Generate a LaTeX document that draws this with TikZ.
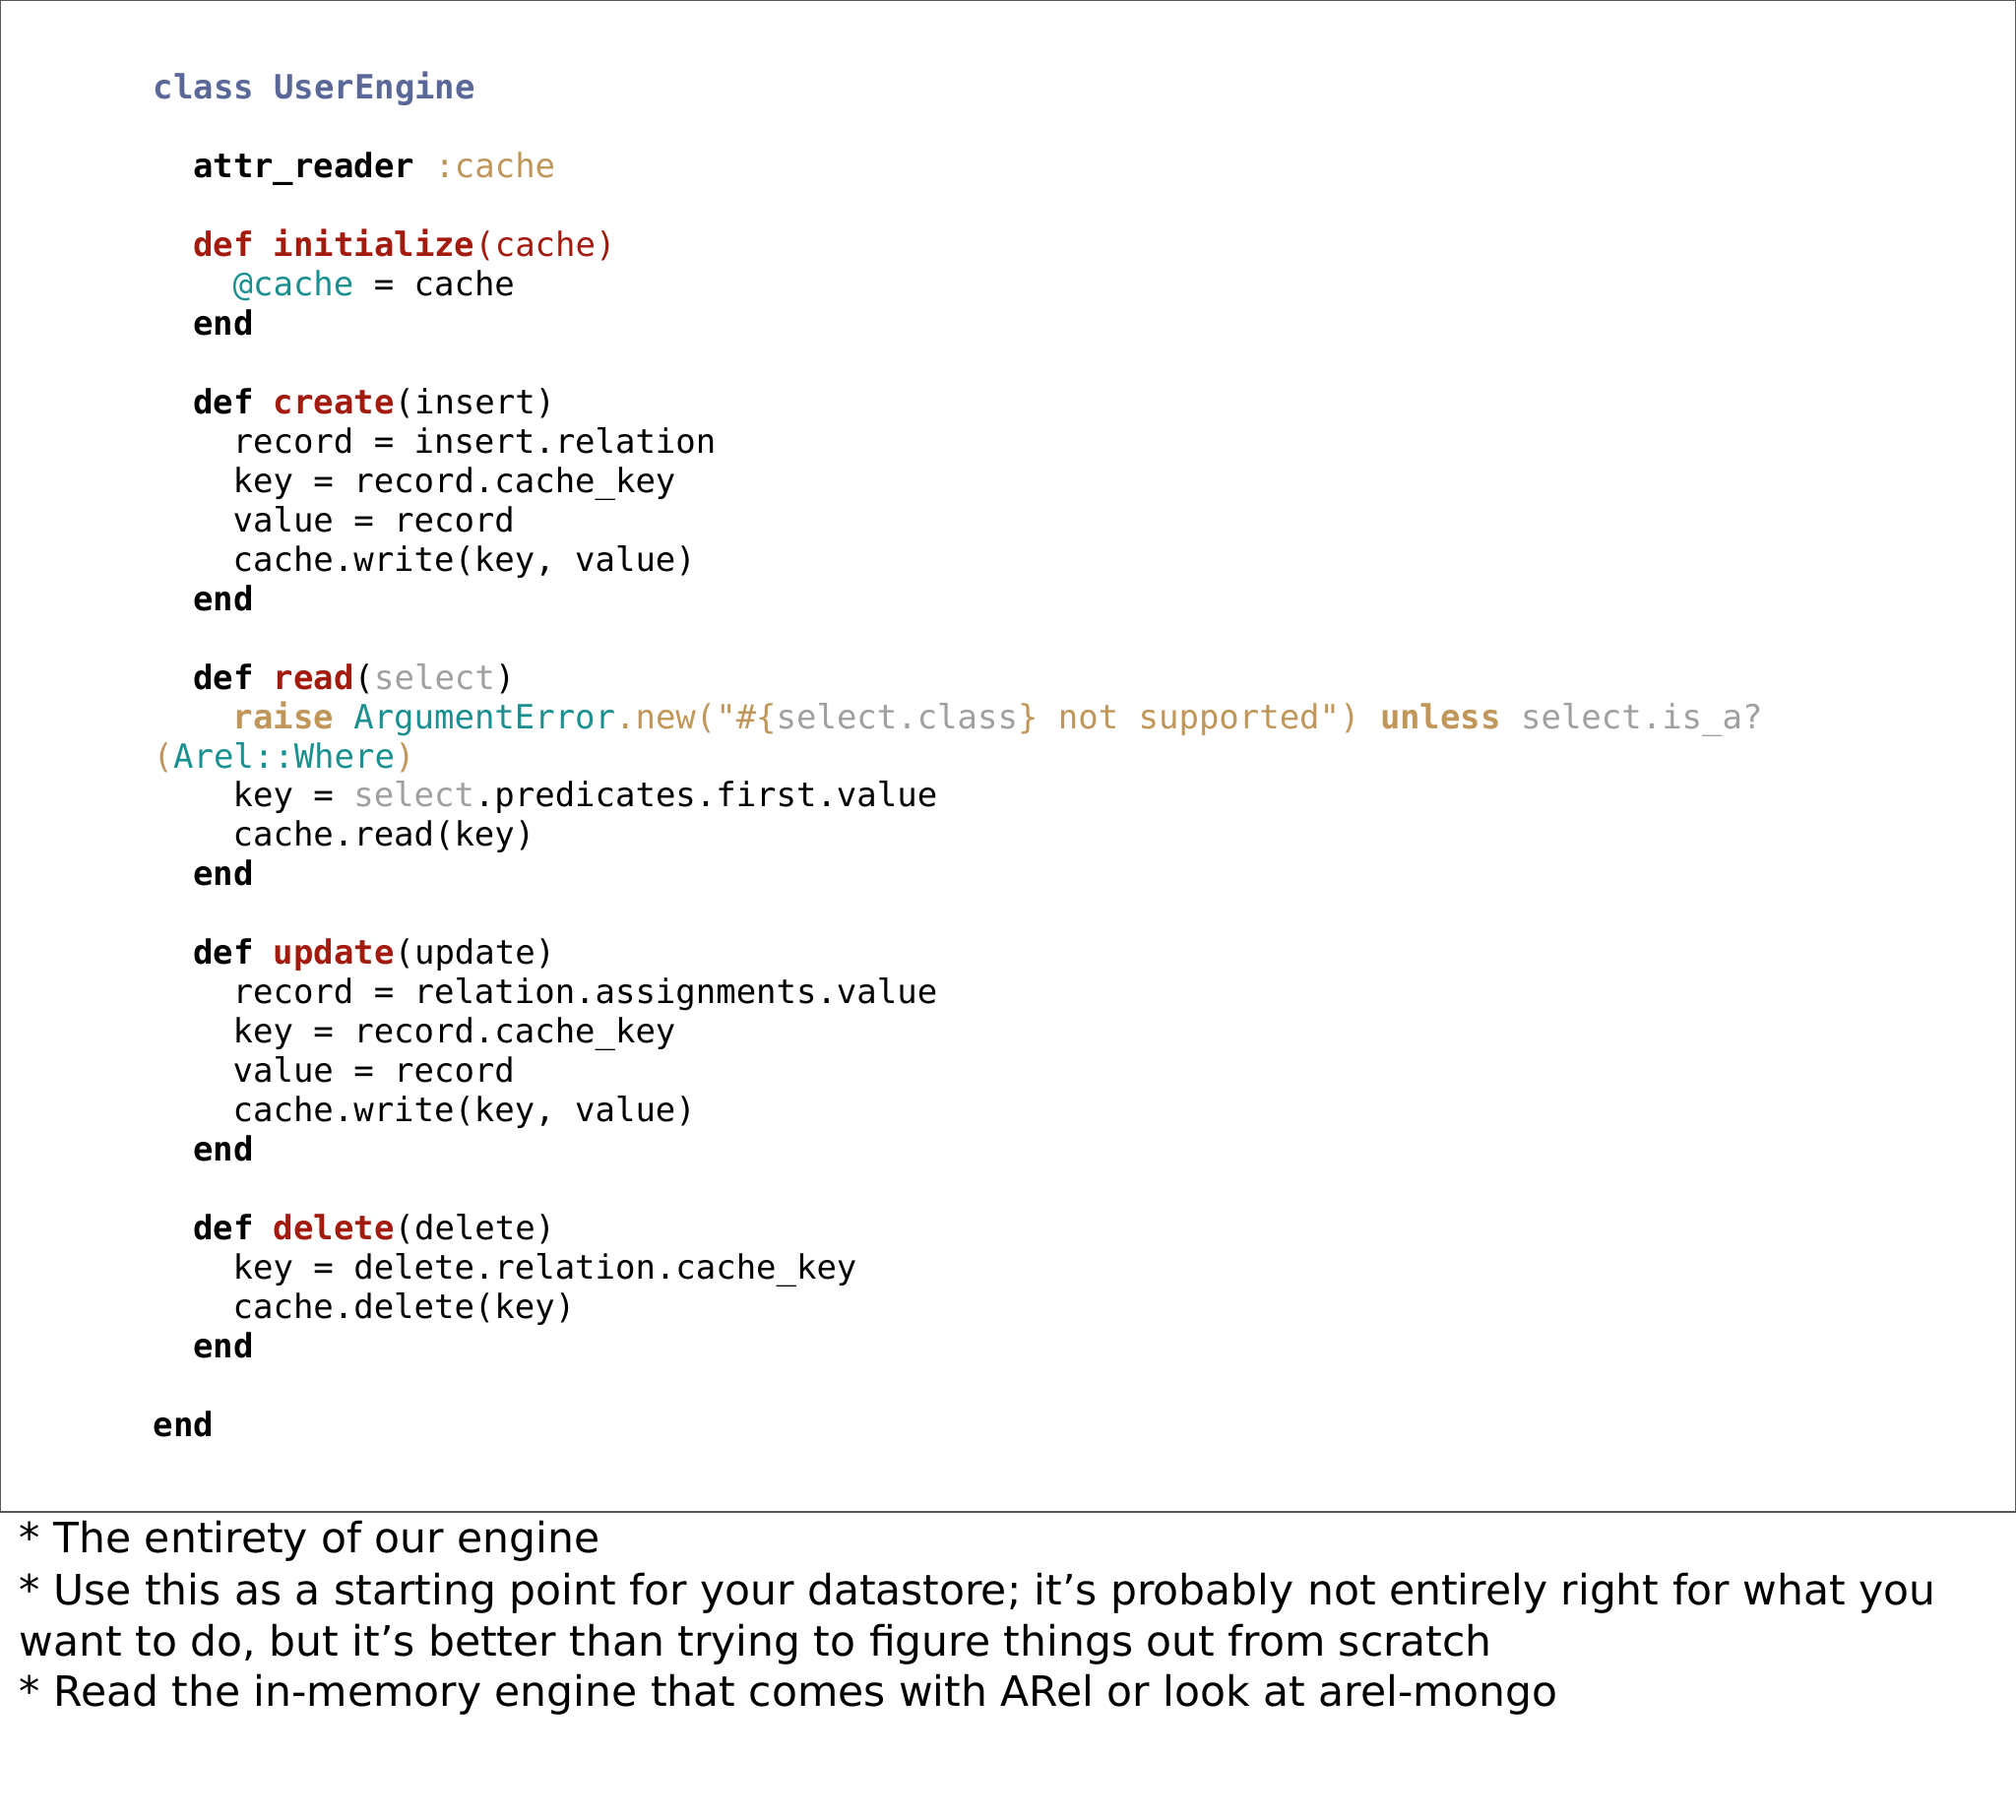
\documentclass[tikz,border=0pt]{standalone}
\usepackage{fontspec}
\setmonofont{DejaVu Sans Mono}
\setmainfont{DejaVu Sans}
\definecolor{kblue}{HTML}{5A6898}
\definecolor{ktan}{HTML}{C0965A}
\definecolor{kred}{HTML}{A31A0E}
\definecolor{kteal}{HTML}{1A9090}
\definecolor{kgray}{HTML}{A0A0A0}
\newcommand{\kb}[1]{\textbf{#1}}
\begin{document}
\begin{tikzpicture}[x=1pt,y=1pt,
  code/.style={anchor=base west,inner sep=0pt,font=\ttfamily\fontsize{26}{30}\selectfont},
  note/.style={anchor=base west,inner sep=0pt,font=\fontsize{32.5}{36}\selectfont}]
\useasboundingbox (0,0) rectangle (1568,-1415);
\draw[line width=1pt,gray!70!black] (0.5,-0.5) rectangle (1567.5,-1176);
\def\ln#1{-77-30.6*#1}
\node[code] (l0) at (119,{\ln{0}}) {\color{kblue}\kb{class UserEngine}};
\node[code] (l2) at (150,{\ln{2}}) {\kb{attr\_reader} \color{ktan}:cache};
\node[code] (l4) at (150,{\ln{4}}) {\color{kred}\kb{def initialize}(cache)};
\node[code] (l5) at (181,{\ln{5}}) {\textcolor{kteal}{@cache} = cache};
\node[code] (l6) at (150,{\ln{6}}) {\kb{end}};
\node[code] (l8) at (150,{\ln{8}}) {\kb{def} \textcolor{kred}{\kb{create}}(insert)};
\node[code] (l9) at (181,{\ln{9}}) {record = insert.relation};
\node[code] (l10) at (181,{\ln{10}}) {key = record.cache\_key};
\node[code] (l11) at (181,{\ln{11}}) {value = record};
\node[code] (l12) at (181,{\ln{12}}) {cache.write(key, value)};
\node[code] (l13) at (150,{\ln{13}}) {\kb{end}};
\node[code] (l15) at (150,{\ln{15}}) {\kb{def} \textcolor{kred}{\kb{read}}(\textcolor{kgray}{select})};
\node[code] (l16) at (181,{\ln{16}}) {\color{ktan}\kb{raise} \textcolor{kteal}{ArgumentError}.new("\#\{\textcolor{kgray}{select.class}\} not supported") \kb{unless} \textcolor{kgray}{select.is\_a?}};
\node[code] (l17) at (119,{\ln{17}}) {\color{ktan}(\textcolor{kteal}{Arel::Where})};
\node[code] (l18) at (181,{\ln{18}}) {key = \textcolor{kgray}{select}.predicates.first.value};
\node[code] (l19) at (181,{\ln{19}}) {cache.read(key)};
\node[code] (l20) at (150,{\ln{20}}) {\kb{end}};
\node[code] (l22) at (150,{\ln{22}}) {\kb{def} \textcolor{kred}{\kb{update}}(update)};
\node[code] (l23) at (181,{\ln{23}}) {record = relation.assignments.value};
\node[code] (l24) at (181,{\ln{24}}) {key = record.cache\_key};
\node[code] (l25) at (181,{\ln{25}}) {value = record};
\node[code] (l26) at (181,{\ln{26}}) {cache.write(key, value)};
\node[code] (l27) at (150,{\ln{27}}) {\kb{end}};
\node[code] (l29) at (150,{\ln{29}}) {\kb{def} \textcolor{kred}{\kb{delete}}(delete)};
\node[code] (l30) at (181,{\ln{30}}) {key = delete.relation.cache\_key};
\node[code] (l31) at (181,{\ln{31}}) {cache.delete(key)};
\node[code] (l32) at (150,{\ln{32}}) {\kb{end}};
\node[code] (l34) at (119,{\ln{34}}) {\kb{end}};
\node[note] (n1) at (15,-1208) {* The entirety of our engine};
\node[note] (n2) at (15,-1248) {* Use this as a starting point for your datastore; it’s probably not entirely right for what you};
\node[note] (n3) at (15,-1288) {want to do, but it’s better than trying to figure things out from scratch};
\node[note] (n4) at (15,-1327) {* Read the in-memory engine that comes with ARel or look at arel-mongo};
\end{tikzpicture}
\end{document}
